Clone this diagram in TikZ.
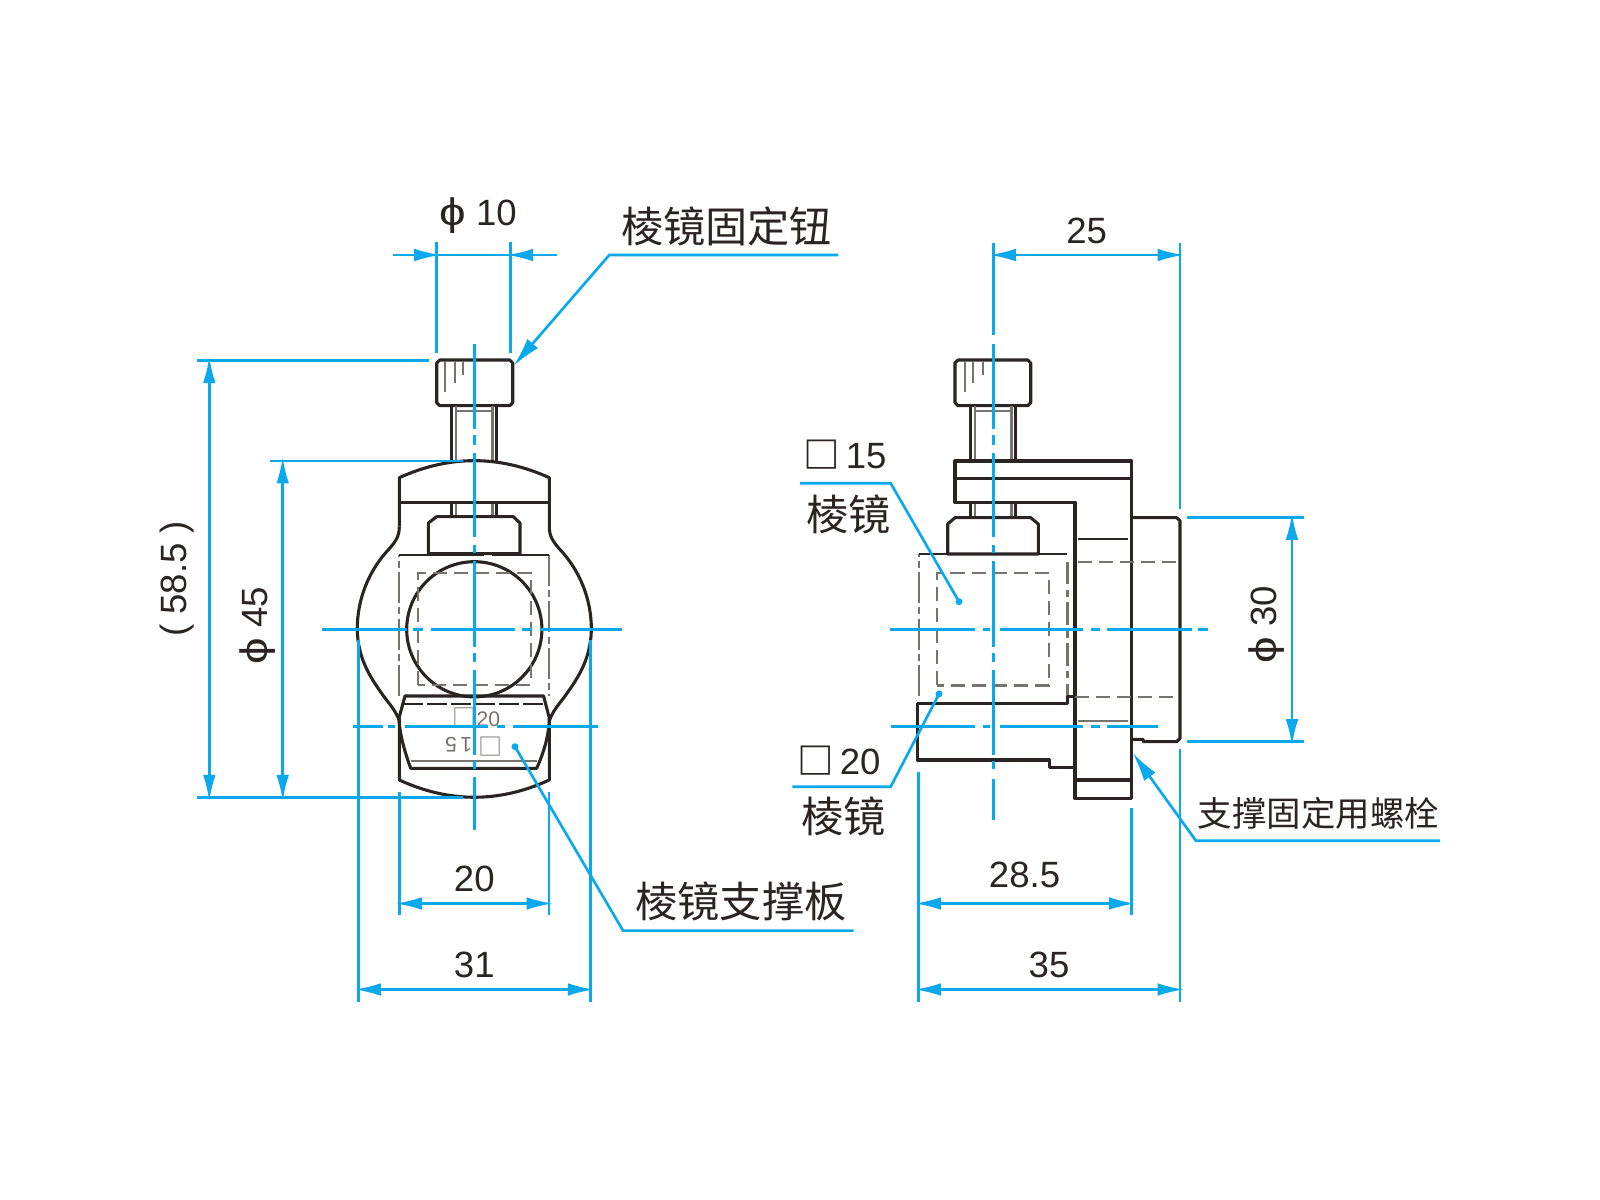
\documentclass[tikz,border=0pt]{standalone}
\usepackage{fontspec}
\setmainfont{Liberation Sans}
\newfontfamily\cjkfont{Noto Sans CJK SC}
\usetikzlibrary{arrows.meta}
\definecolor{dimblue}{HTML}{0AA8EC}
\definecolor{inkdark}{HTML}{2A2422}
\definecolor{inkgray}{HTML}{77736F}
\newcommand{\diam}{\scalebox{1.3}[1.05]{ϕ}}
\tikzset{
  part/.style={draw=inkdark, line width=2.2pt, line join=round},
  fine/.style={draw=inkgray, line width=1.6pt},
  knurl/.style={draw=inkgray, line width=1.4pt},
  phantom/.style={draw=inkgray, line width=1.5pt, dash pattern=on 22pt off 3pt on 5pt off 3pt},
  hidden/.style={draw=inkgray, line width=1.5pt, dash pattern=on 10pt off 5pt},
  axis/.style={draw=dimblue, line width=1.9pt},
  dim/.style={draw=dimblue, line width=1.9pt, shorten <=-3pt, shorten >=-3pt, {Latex[length=19pt,width=9pt]}-{Latex[length=19pt,width=9pt]}},
  leader/.style={draw=dimblue, line width=1.9pt},
  value/.style={text=inkdark, inner sep=0pt, font=\fontsize{26}{26}\selectfont},
  engraved/.style={text=inkgray, inner sep=0pt, font=\fontsize{15}{15}\selectfont},
  caption/.style={text=inkdark, inner sep=0pt, font=\cjkfont\fontsize{30}{30}\selectfont}
}
\begin{document}
\begin{tikzpicture}[x=0.025cm, y=-0.025cm]
    \useasboundingbox (0,0) rectangle (1600,1200);

    % Front view: bolt
    \draw[part] (436.7,363) -- (439.7,360) -- (509.7,360) -- (512.7,363) -- (512.7,402.7) -- (509.7,405.7) -- (439.7,405.7) -- (436.7,402.7) -- cycle;
    \draw[knurl] (445,362) -- (445,392) (455,362) -- (455,383) (463,362) -- (463,375);
    \draw[part] (451.7,405.7) -- (451.7,461) (496.7,405.7) -- (496.7,461);
    \draw[fine] (456,406) -- (456,461) (492.5,406) -- (492.5,461);
    \draw[knurl] (456,410.7) -- (492.5,410.7);
    \draw[part] (451.7,502.3) -- (451.7,517) (496.7,502.3) -- (496.7,517);
    \draw[fine] (456,502.3) -- (456,517) (492.5,502.3) -- (492.5,517);

    % Front view: holder outline
    \draw[part] (399.3,526.7) -- (399.3,477.7) .. controls (449.3,455) and (499.3,455) .. (549.3,477.7) -- (549.3,526.7)
      .. controls (549.3,537) and (553.6,542) .. (558.6,548) arc[start angle=-44, end angle=0, radius=116.7]
      .. controls (591,660) and (576.6,680) .. (563.6,698) .. controls (556.6,707) and (552.6,712) .. (549.6,720);
    \draw[part] (399.3,526.7) .. controls (399.3,537) and (395,542) .. (390,548) arc[start angle=224, end angle=180, radius=116.7]
      .. controls (357.6,660) and (372,680) .. (385,698) .. controls (392,707) and (396,712) .. (399,720);
    \draw[part] (399.3,502.3) -- (549.3,502.3);
    \draw[part] (474.3,629.3) circle (67.6);

    % Front view: nut
    \draw[part] (428.3,553.7) -- (428.3,523) -- (436.7,516.7) -- (513.3,516.7) -- (520,523) -- (520,553.7) -- cycle;

    % Front view: prism
    \draw[phantom] (399.3,696) -- (399.3,555) (549.3,555) -- (549.3,696);
    \draw[draw=inkdark, line width=1.4pt, dash pattern=on 60pt off 6pt] (399.3,555) -- (549.3,555);
    \draw[hidden] (418.3,685) rectangle (530.7,572.7);

    % Front view: support plate
    \draw[part] (399.3,718) -- (399.3,780) .. controls (449.3,803) and (499.3,803) .. (549.3,780) -- (549.3,718);
    \draw[part] (399,718) -- (405,696) -- (543.6,696) -- (549.3,718) .. controls (549.3,732) and (545,750) .. (536.7,768.3)
      -- (410.7,768.3) .. controls (404,750) and (399.3,732) .. (399,718);
    \draw[draw=inkdark, line width=1.4pt, dash pattern=on 14pt off 3pt] (403.3,704) -- (543.3,704);
    \draw[knurl] (410.7,760.7) -- (536.7,760.7);
    \node[engraved] (markA) at (476.5,717.3) {{\cjkfont\fontsize{17}{17}\selectfont □}20};
    \node[engraved, rotate=180] (markB) at (474,746.7) {{\cjkfont\fontsize{17}{17}\selectfont □}\,\,1\,5};

    % Side view: bolt
    \draw[part] (955,363) -- (958,360) -- (1027.7,360) -- (1030.7,363) -- (1030.7,402.7) -- (1027.7,405.7) -- (958,405.7) -- (955,402.7) -- cycle;
    \draw[knurl] (965,362) -- (965,392) (973.3,362) -- (973.3,383) (982.7,362) -- (982.7,375);
    \draw[part] (970.7,405.7) -- (970.7,461) (1015.7,405.7) -- (1015.7,461);
    \draw[fine] (975,406) -- (975,461) (1011.5,406) -- (1011.5,461);
    \draw[knurl] (975,410.7) -- (1011.5,410.7);
    \draw[part] (970.7,502.3) -- (970.7,517) (1015.7,502.3) -- (1015.7,517);
    \draw[fine] (975,502.3) -- (975,517) (1011.5,502.3) -- (1011.5,517);

    % Side view: holder
    \draw[part] (1075,798.3) -- (1075,502.3) -- (955,502.3) -- (955,461) -- (1131.7,461) -- (1131.7,798.3) -- cycle;
    \draw[part] (955,478.3) -- (1131.7,478.3);
    \draw[part] (1075,780) -- (1131.7,780);
    \draw[part] (1131.7,517.7) -- (1176.7,517.7) -- (1180,520.7) -- (1180,738.3) -- (1176.7,741.7) -- (1143.3,741.7) -- (1143,739.3) -- (1131.7,739.3);
    \draw[draw=inkdark, line width=1.4pt] (1078.3,539) -- (1127.7,539);
    \draw[knurl] (1078.3,720.7) -- (1127.7,720.7);
    \draw[hidden] (1078,562.3) -- (1180,562.3);
    \draw[hidden] (1075,696.7) -- (1180,696.7);

    % Side view: nut
    \draw[part] (947.7,554) -- (947.7,524) -- (955,517.7) -- (1030.7,517.7) -- (1038.3,524) -- (1038.3,554) -- cycle;

    % Side view: prism
    \draw[phantom] (918.7,696) -- (918.7,554.3);
    \draw[draw=inkdark, line width=1.4pt, dash pattern=on 60pt off 6pt] (918.7,554.3) -- (1067,554.3);
    \draw[draw=inkgray, line width=2pt, dash pattern=on 16pt off 4pt on 5pt off 4pt] (1067.7,561.7) -- (1067.7,696.7);
    \draw[hidden] (936.7,685.5) rectangle (1049,572.7);

    % Side view: support plate
    \draw[part] (917.3,703.3) -- (1067.7,703.3) -- (1067.7,696.7) -- (1075,696.7);
    \draw[part] (917.3,703.3) -- (917.3,760) -- (1049.3,760) -- (1049.3,767.7) -- (1075,767.7);

    % Center lines
    \draw[axis] (474.3,344) -- (474.3,429) (474.3,435) -- (474.3,445) (474.3,453) -- (474.3,537) (474.3,545) -- (474.3,553)
      (474.3,561) -- (474.3,647) (474.3,653) -- (474.3,662) (474.3,670) -- (474.3,755) (474.3,761) -- (474.3,769) (474.3,777) -- (474.3,830);
    \draw[axis] (993.3,344) -- (993.3,429) (993.3,435) -- (993.3,445) (993.3,453) -- (993.3,537) (993.3,545) -- (993.3,553)
      (993.3,561) -- (993.3,647) (993.3,653) -- (993.3,662) (993.3,670) -- (993.3,755) (993.3,761) -- (993.3,769) (993.3,779) -- (993.3,820);
    \draw[axis] (322,629.3) -- (406.7,629.3) (413,629.3) -- (423,629.3) (430.7,629.3) -- (515,629.3) (521.7,629.3) -- (531.7,629.3) (540,629.3) -- (622,629.3);
    \draw[axis] (352.7,726.7) -- (382.7,726.7) (387.7,726.7) -- (395,726.7) (405,726.7) -- (488,726.7) (496.7,726.7) -- (505,726.7) (513.3,726.7) -- (598,726.7);
    \draw[axis] (890,629.3) -- (975,629.3) (983,629.3) -- (990,629.3) (1000,629.3) -- (1083,629.3) (1090.7,629.3) -- (1100,629.3) (1107,629.3) -- (1191.7,629.3) (1198,629.3) -- (1208,629.3);
    \draw[axis] (891,726.7) -- (975,726.7) (983,726.7) -- (990,726.7) (1000,726.7) -- (1083,726.7) (1090.7,726.7) -- (1100,726.7) (1107,726.7) -- (1158,726.7);

    % Dimension 10
    \draw[axis] (436.7,241.7) -- (436.7,353.3) (510.7,241.7) -- (510.7,353.3);
    \draw[axis] (393,255) -- (556.7,255);
    \draw[dim, {Latex[length=19pt,width=9pt]}-] (436.7,255) -- (410,255);
    \draw[dim, {Latex[length=19pt,width=9pt]}-] (510.7,255) -- (537,255);
    \node[value] (dimTen) at (478,216) {\diam\ 10};

    % Dimensions 58.5 and 45
    \draw[axis] (196.7,360.7) -- (429,360.7);
    \draw[axis] (270,461) -- (463,461);
    \draw[axis] (196.7,797.3) -- (463,797.3);
    \draw[dim] (209.3,360.7) -- (209.3,797.3);
    \draw[dim] (282.7,461) -- (282.7,797.3);
    \node[value, rotate=90] (dimTotal) at (176.7,579) {( 58.5 )};
    \node[value, rotate=90] (dimOuter) at (258,625.7) {\diam\ 45};

    % Dimensions 20 and 31
    \draw[axis] (358.3,640) -- (358.3,1002) (590.3,640) -- (590.3,1002);
    \draw[axis] (399.3,792) -- (399.3,915) (549,792) -- (549,915);
    \draw[dim] (399.3,903.5) -- (549,903.5);
    \draw[dim] (358.3,989.5) -- (590.3,989.5);
    \node[value] (dimPlate) at (474.3,878.6) {20};
    \node[value] (dimBody) at (474.3,965) {31};

    % Dimensions 25, 30, 28.5 and 35
    \draw[axis] (993.3,242.7) -- (993.3,335) (1180,242.7) -- (1180,509);
    \draw[dim] (993.3,255) -- (1180,255);
    \node[value] (dimReach) at (1086.7,230.7) {25};
    \draw[axis] (1187,517.3) -- (1304,517.3) (1187,741.7) -- (1304,741.7);
    \draw[dim] (1292,517.3) -- (1292,741.7);
    \node[value, rotate=90] (dimFlange) at (1266.7,625) {\diam\ 30};
    \draw[axis] (918.4,771.7) -- (918.4,1002) (1180,749.3) -- (1180,1002) (1131.5,808.3) -- (1131.5,915);
    \draw[dim] (918.4,903.5) -- (1131.5,903.5);
    \draw[dim] (918.4,989.5) -- (1180,989.5);
    \node[value] (dimBase) at (1024.5,874.5) {28.5};
    \node[value] (dimDepth) at (1049,965) {35};

    % Leaders with captions
    \coordinate (tipKnob) at (513.3,366);
    \coordinate (kinkKnob) at (609.3,255);
    \coordinate (endKnob) at (838.3,255);
    \draw[leader, {Latex[length=21pt,width=10pt]}-] (tipKnob) -- (kinkKnob) -- (endKnob);
    \node[caption] (capKnob) at (726.7,226.7) {棱镜固定钮};

    \coordinate (tipPlate) at (515,746.7);
    \coordinate (kinkPlate) at (623,930.6);
    \coordinate (endPlate) at (853.5,930.6);
    \draw[leader] (tipPlate) -- (kinkPlate) -- (endPlate);
    \fill[dimblue] (tipPlate) circle (3.5);
    \node[caption] (capPlate) at (741,901) {棱镜支撑板};

    \coordinate (tipSmall) at (959,601.7);
    \coordinate (kinkSmall) at (890.7,483.3);
    \coordinate (endSmall) at (800,483.3);
    \draw[leader] (tipSmall) -- (kinkSmall) -- (endSmall);
    \fill[dimblue] (tipSmall) circle (3.5);
    \node[value] (sizeSmall) at (845,455) {{\cjkfont\bfseries\fontsize{26}{26}\selectfont □}\hspace{4pt}15};
    \node[caption] (capSmall) at (848.3,514.3) {棱镜};

    \coordinate (tipLarge) at (939,694);
    \coordinate (kinkLarge) at (890.7,786.7);
    \coordinate (endLarge) at (792.3,786.7);
    \draw[leader] (tipLarge) -- (kinkLarge) -- (endLarge);
    \fill[dimblue] (tipLarge) circle (3.5);
    \node[value] (sizeLarge) at (839,761) {{\cjkfont\bfseries\fontsize{26}{26}\selectfont □}\hspace{4pt}20};
    \node[caption] (capLarge) at (843.3,816.7) {棱镜};

    \coordinate (tipBolt) at (1132.5,752.7);
    \coordinate (kinkBolt) at (1196,840.8);
    \coordinate (endBolt) at (1440,840.8);
    \draw[leader, {Latex[length=21pt,width=10pt]}-] (tipBolt) -- (kinkBolt) -- (endBolt);
    \node[caption, font=\cjkfont\fontsize{24.5}{24.5}\selectfont] (capBolt) at (1318.4,813) {支撑固定用螺栓};
\end{tikzpicture}
\end{document}
